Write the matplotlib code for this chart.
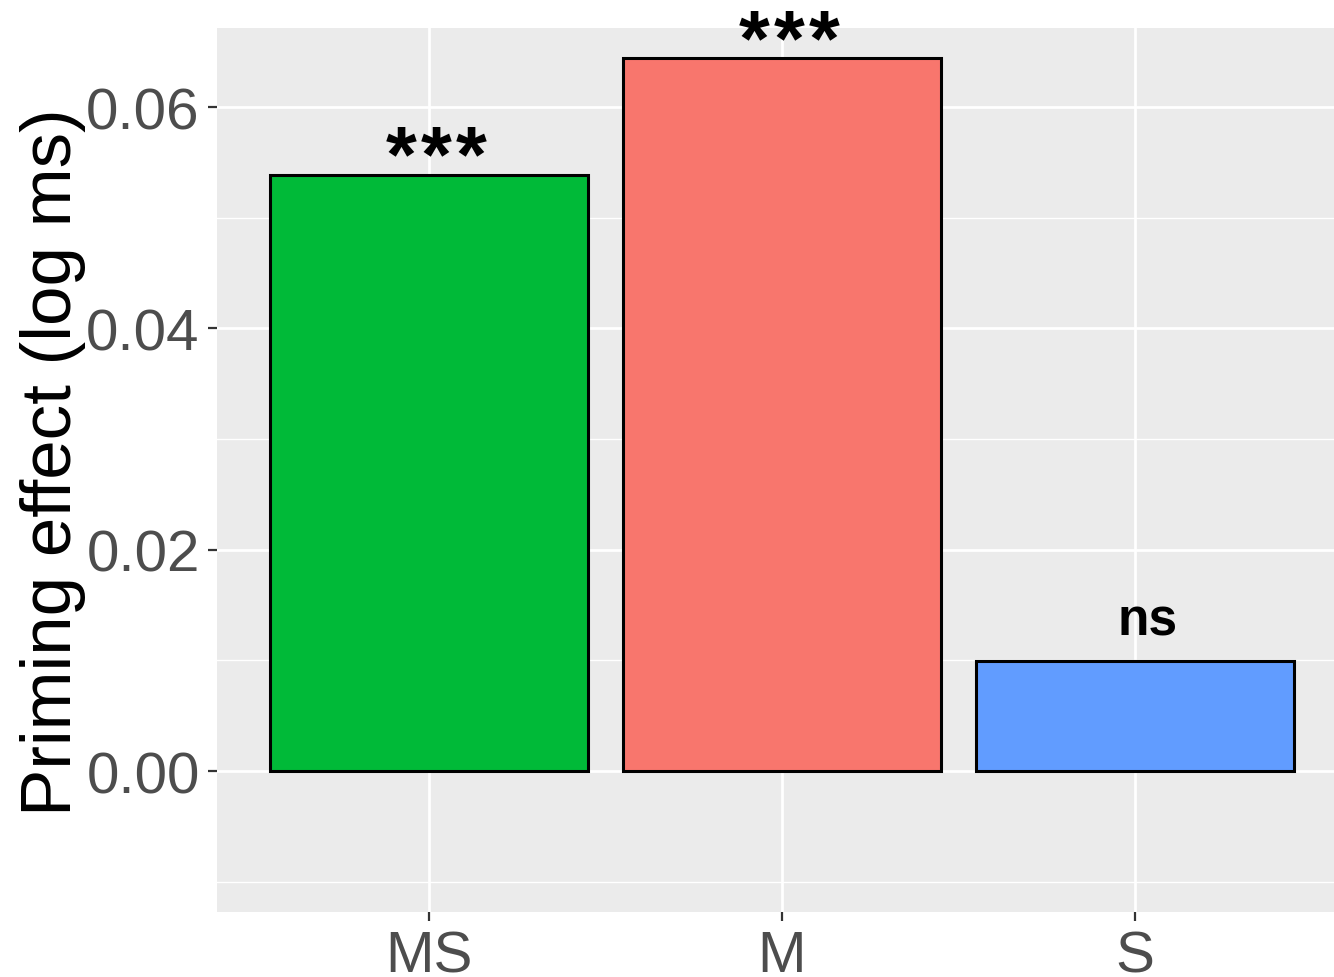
import numpy as np
import matplotlib
matplotlib.use("Agg")
import matplotlib.pyplot as plt
from matplotlib.ticker import MultipleLocator

# priming effect per condition
conds = ["MS", "M", "S"]
effect = [0.0539, 0.0644, 0.0099]
signif = ["***", "***", "ns"]
cols = ["#00BA38", "#F8766D", "#619CFF"]

plt.rcParams['font.family'] = ['Liberation Sans', 'DejaVu Sans']

fig = plt.figure(figsize=(13.34, 9.78), dpi=100)
ax = fig.add_axes([217/1334, 65/978, 1 - 217/1334, (913-29)/978])
ax.set_facecolor("#EBEBEB")
for s in ax.spines.values():
	s.set_visible(False)

x = np.arange(1, len(conds)+1)
ax.bar(x, effect, width=0.9, color=cols, edgecolor="black", linewidth=2.2, zorder=3)

# significance labels above the bars (stars spaced out one by one)
pt = 0.72
for xi, v, lab in zip(x, effect, signif):
	if lab == "ns":
		ax.annotate(lab, (xi, v), xytext=(13*pt, 27*pt), textcoords="offset points",
			ha="center", va="baseline", fontsize=37, fontweight="bold", zorder=4)
	else:
		n = len(lab)
		for k in range(n):
			dx = 7 + (k - (n-1)/2)*35
			ax.annotate("*", (xi, v), xytext=(dx*pt, 52*pt), textcoords="offset points",
				ha="center", va="top", fontsize=57, fontweight="bold", zorder=4)

ax.set_xlim(0.3994, 3.564)
ax.set_ylim(-0.01274, 0.06714)
ax.set_xticks(x)
ax.set_xticklabels(conds)
ax.yaxis.set_major_locator(MultipleLocator(0.02))
ax.yaxis.set_minor_locator(MultipleLocator(0.01))
ax.set_yticks([0.0, 0.02, 0.04, 0.06])
ax.set_yticklabels(["0.00", "0.02", "0.04", "0.06"])

ax.grid(which="major", color="white", linewidth=2.0, zorder=0)
ax.grid(which="minor", axis="y", color="white", linewidth=1.0, zorder=0)
ax.set_axisbelow(True)
ax.tick_params(which="major", length=6.5, width=1.6, color="#333333",
	labelsize=42, labelcolor="#4D4D4D", pad=6)
ax.tick_params(which="minor", length=0)

fig.text(20/1334, 1 - 462/978, "Priming effect (log ms)", rotation=90,
	ha="left", va="center", fontsize=51, color="black")

fig.savefig("out.png", dpi=100)
